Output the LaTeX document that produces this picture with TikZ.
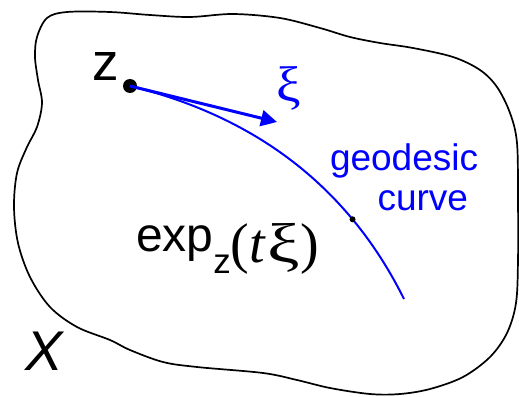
\documentclass[tikz,border=0pt]{standalone}
\usepackage{fontspec}
\setmainfont{Liberation Sans}
\newfontfamily\serifxi{Liberation Serif}
\usetikzlibrary{arrows.meta}
\definecolor{geoblue}{RGB}{0,0,255}
\begin{document}
\begin{tikzpicture}[x=1pt,y=-1pt,
  outline/.style={line width=1.7pt, black},
  geo/.style={line width=2pt, geoblue},
  vec/.style={line width=3pt, geoblue, -{Triangle[length=16pt,width=16pt]}},
  lbl/.style={inner sep=0pt, outer sep=0pt},
  bigdot/.style={circle, fill=black, inner sep=0pt, minimum size=14pt},
  smalldot/.style={circle, fill=black, inner sep=0pt, minimum size=6pt}]
\useasboundingbox (0,0) rectangle (519,396);
\draw[outline] plot[smooth cycle, tension=0.55] coordinates {
 (47,18) (67,12) (110,12) (150,15) (190,17) (233,14) (280,18) (320,28)
 (350,37) (380,43) (413,48) (453,57) (480,70) (497,87) (510,113) (517,143)
 (518,200) (518,260) (516,303) (507,333) (490,357) (463,377) (430,389)
 (400,394) (370,394) (330,388) (297,380) (263,373) (197,367) (163,362)
 (130,350) (110,340) (77,327) (50,307) (30,277) (18,243) (14,207) (17,173)
 (27,147) (37,127) (42,103) (38,80) (35,57) (37,37)};
\node[lbl, anchor=base west, font=\fontsize{53}{53}\selectfont] (zl) at (92,80) {z};
\node[bigdot] (z) at (130,86) {};
\coordinate (tip) at (277,122);
\coordinate (end) at (404,299);
\draw[geo] (z.center) .. controls (220,108) and (335,160) .. (end)
  node[pos=0.78, smalldot] (p) {};
\draw[vec] (z.center) -- (tip);
\node[lbl, geoblue, font=\serifxi\fontsize{50}{50}\selectfont] (xi) at (289,88) {\scalebox{1.1}[1]{ξ}};
\node[lbl, anchor=base west, geoblue, font=\fontsize{37}{37}\selectfont] (g1) at (330,170) {geodesic};
\node[lbl, anchor=base east, geoblue, font=\fontsize{37}{37}\selectfont] (g2) at (468,210) {curve};
\node[lbl, anchor=base west, font=\fontsize{48}{48}\selectfont] (ex) at (136,251)
  {exp\raisebox{-22pt}{\fontsize{35}{35}\selectfont z}\raisebox{-11pt}{\serifxi\fontsize{56}{56}\selectfont(\textit{t}\kern1pt\scalebox{1.3}[1]{ξ}\kern1pt)}};
\node[lbl, anchor=base west, font=\fontsize{56}{56}\selectfont\itshape] (X) at (25,370) {X};
\end{tikzpicture}
\end{document}
